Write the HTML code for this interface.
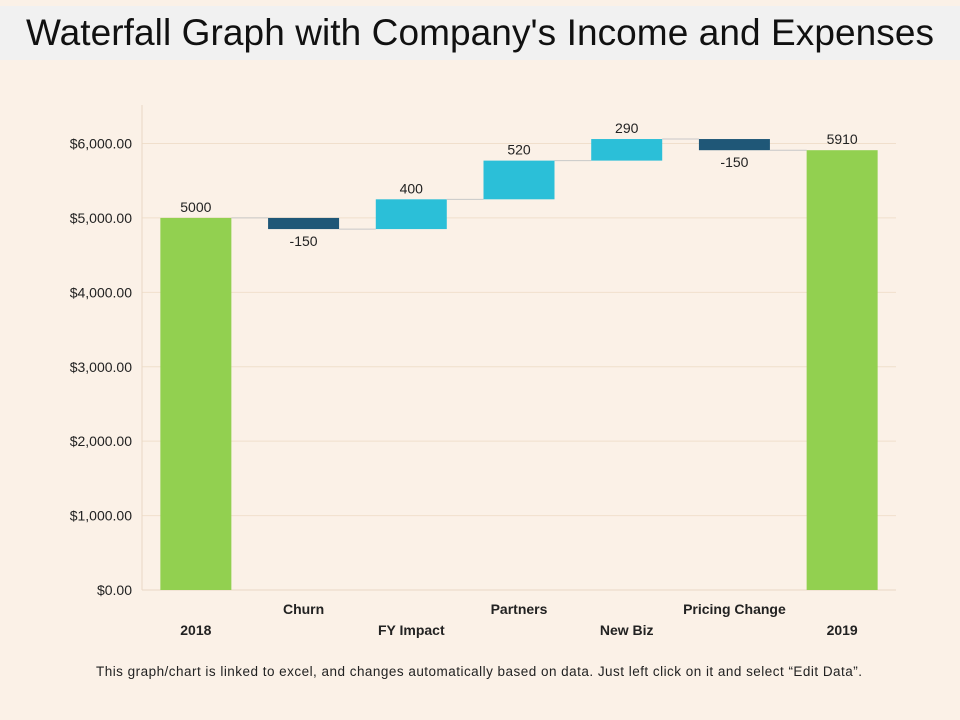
<!DOCTYPE html>
<html><head><meta charset="utf-8"><style>
body{margin:0;width:960px;height:720px;background:#fbf1e7;font-family:"Liberation Sans",Arial,sans-serif;overflow:hidden}
svg{position:absolute;left:0;top:0}
</style></head><body>
<svg width="960" height="720">
<rect x="0" y="6" width="960" height="54" fill="#f1f1f1"/>
<text x="480" y="45" text-anchor="middle" font-size="37" textLength="908" fill="#111">Waterfall Graph with Company's Income and Expenses</text>
<g id="grid"></g><g id="bars"></g><g id="labels"></g>
<text x="96" y="676" font-size="13.5" textLength="766" fill="#222">This graph/chart is linked to excel, and changes automatically based on data. Just left click on it and select “Edit Data”.</text>
</svg>
<script>
const categories=["2018","Churn","FY Impact","Partners","New Biz","Pricing Change","2019"];
const values=[5000,-150,400,520,290,-150,5910];
const isTotal=[true,false,false,false,false,false,true];
const yTicks=[0,1000,2000,3000,4000,5000,6000];
const NS="http://www.w3.org/2000/svg";
const L=142,R=896,Y0=590,Y6=143.5;
const y=v=>Y0-(v/6000)*(Y0-Y6);
const step=(R-L)/categories.length;
const cx=i=>L+step*(i+0.5);
const bw=71;
function mk(tag,attrs,parent,txt){const e=document.createElementNS(NS,tag);for(const k in attrs)e.setAttribute(k,attrs[k]);if(txt!==undefined)e.textContent=txt;document.getElementById(parent).appendChild(e);return e;}
yTicks.forEach(t=>{
 if(t>0){const g=mk('line',{x1:L,x2:R,y1:y(t),y2:y(t),stroke:'#f0dfcc','stroke-width':1},'grid');
 
 }
 const lb=mk('text',{x:132,y:y(t)+5,'text-anchor':'end','font-size':14,fill:'#222'},'labels','$'+t.toLocaleString('en-US',{minimumFractionDigits:2}));
 
 
});
const ax=mk('line',{x1:L,x2:L,y1:105,y2:Y0,stroke:'#e8d8c4','stroke-width':1},'grid');


const bx=mk('line',{x1:L,x2:R,y1:Y0,y2:Y0,stroke:'#e8d8c4','stroke-width':1},'grid');


let run=0;
categories.forEach((c,i)=>{
 const v=values[i];let lo,hi,col,end;
 if(isTotal[i]){lo=0;hi=v;end=v;col='#92d050';}
 else{const s=run;end=run+v;lo=Math.min(s,end);hi=Math.max(s,end);col=v<0?'#1f5777':'#2bbfd8';}
 const r=mk('rect',{x:cx(i)-bw/2,y:y(hi),width:bw,height:y(lo)-y(hi),fill:col},'bars');
 
 
 if(i<categories.length-1){
  const cn=mk('line',{x1:cx(i)+bw/2,x2:cx(i+1)-bw/2,y1:y(end),y2:y(end),stroke:'#c8c8c8','stroke-width':1},'bars');
  
  
 }
 const neg=v<0;
 const vl=mk('text',{x:cx(i),y:neg?y(lo)+17:y(hi)-6,'text-anchor':'middle','font-size':14,fill:'#222'},'labels',String(v));
 
 
 const cl=mk('text',{x:cx(i),y:i%2?614:635,'text-anchor':'middle','font-size':14,'font-weight':'bold',fill:'#222'},'labels',c);
 
 
 run=end;
});
</script>
</body></html>
